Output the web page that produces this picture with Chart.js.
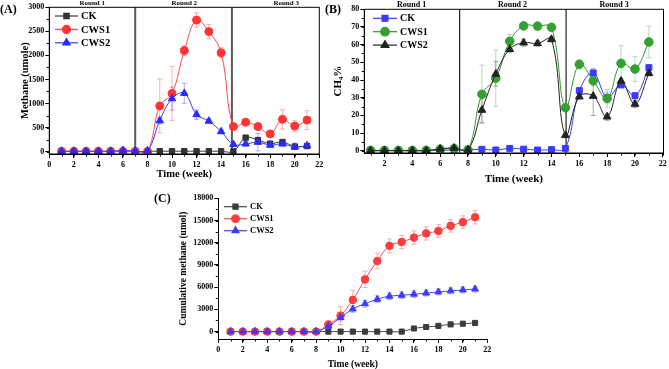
<!DOCTYPE html>
<html>
<head>
<meta charset="utf-8">
<script src="https://cdn.jsdelivr.net/npm/chart.js@4.4.1/dist/chart.umd.min.js"></script>
<style>
  html, body { margin: 0; padding: 0; background: #fff; }
  #wrap { position: relative; width: 669px; height: 369px; overflow: hidden; }
  canvas { position: absolute; }
  .tag { position: absolute; font: bold 12px "Liberation Serif", serif; line-height: 12px; color: #000; }
</style>
</head>
<body>
<div id="wrap">
  <canvas id="chartA" width="334" height="185" style="left:0;top:0;width:334px;height:185px"></canvas>
  <canvas id="chartB" width="349" height="190" style="left:320px;top:0;width:349px;height:190px"></canvas>
  <canvas id="chartC" width="380" height="190" style="left:150px;top:185px;width:380px;height:190px"></canvas>
  <div class="tag" style="left:0;top:3px">(A)</div>
  <div class="tag" style="left:325px;top:3px">(B)</div>
  <div class="tag" style="left:154px;top:192px">(C)</div>
</div>
<script>
const SERIF = '"Liberation Serif", "Times New Roman", serif';

// sampling weeks
const weeks = [1, 2, 3, 4, 5, 6, 7, 8, 9, 10, 11, 12, 13, 14, 15, 16, 17, 18, 19, 20, 21];
const seriesNames = ['CK', 'CWS1', 'CWS2'];
const roundNames = ['Round 1', 'Round 2', 'Round 3'];

// (A) methane per week (umole)
const aCK       = [0, 0, 0, 0, 0, 0, 0, 5, 8, 8, 8, 8, 8, 8, 5, 290, 240, 165, 200, 105, 115];
const aCKErr    = [0, 0, 0, 0, 0, 0, 0, 0, 0, 0, 0, 0, 0, 0, 0, 30, 40, 25, 30, 20, 20];
const aCWS1     = [5, 5, 5, 5, 5, 5, 5, 0, 950, 1210, 2100, 2735, 2495, 2055, 520, 610, 520, 368, 670, 530, 655];
const aCWS1Err  = [0, 0, 0, 0, 0, 0, 0, 0, 560, 560, 100, 150, 150, 105, 30, 40, 40, 30, 200, 115, 195];
const aCWS2     = [10, 10, 10, 10, 10, 25, 15, 20, 644, 1101, 1213, 770, 635, 416, 150, 160, 195, 135, 160, 95, 125];
const aCWS2Err  = [0, 0, 0, 0, 0, 0, 0, 0, 60, 240, 210, 100, 45, 40, 30, 40, 180, 40, 40, 30, 30];
const aXTicks = [0, 2, 4, 6, 8, 10, 12, 14, 16, 18, 20, 22];
const aYTicks = [0, 500, 1000, 1500, 2000, 2500, 3000];
const aDividers = [7, 14.88];
const aRoundAt = [3.5, 11, 19.3];

// (B) CH4 share (%)
const bCK       = [0, 0, 0, 0, 0, 0.3, 0.3, 0.5, 0.8, 0.4, 1.3, 0.9, 0.4, 0.6, 1.3, 34, 44, 30, 37.2, 31.1, 47];
const bCKErr    = [0, 0, 0, 0, 0, 0, 0, 0, 0, 0, 0, 0, 0, 0, 0, 1.5, 2.5, 3, 1.5, 1.5, 1.5];
const bCWS1     = [0.2, 0.2, 0.2, 0.2, 0.2, 0.8, 1.2, 0.5, 31.9, 41, 61.9, 70.6, 70.5, 69.8, 24.3, 48.9, 39.6, 29.6, 49.4, 46.2, 61.5];
const bCWS1Err  = [0, 0, 0, 0, 0, 0.5, 0.5, 0, 16.5, 16, 4, 1.5, 1.5, 1.5, 1, 2.5, 3, 5, 10, 7, 9];
const bCWS2     = [0, 0, 0, 0, 0, 1, 1.5, 0.5, 23, 43.4, 57.4, 61.1, 60.7, 63, 8.7, 30.6, 30.9, 19.2, 39.4, 26.4, 43.8];
const bCWS2Err  = [0, 0, 0, 0, 0, 0.5, 0.5, 0, 7, 7, 2, 2, 1.5, 1.5, 1, 1.5, 11, 2, 1.5, 2, 1.5];
const bXTicks = [2, 4, 6, 8, 10, 12, 14, 16, 18, 20, 22];
const bYTicks = [0, 10, 20, 30, 40, 50, 60, 70, 80];
const bDividers = [7.4, 15.05];
const bRoundAt = [3.95, 11.2, 18.5];

// (C) cumulative methane (umol)
const cCK       = [0, 0, 0, 0, 0, 0, 0, 0, 0, 0, 0, 0, 0, 0, 0, 420, 620, 770, 970, 1070, 1170];
const cCKErr    = [0, 0, 0, 0, 0, 0, 0, 0, 0, 0, 0, 0, 0, 0, 0, 60, 80, 80, 90, 90, 100];
const cCWS1     = [0, 0, 0, 0, 0, 0, 0, 0, 950, 2160, 4280, 7050, 9530, 11580, 12100, 12690, 13260, 13590, 14280, 14780, 15440];
const cCWS1Err  = [0, 0, 0, 0, 0, 0, 0, 0, 500, 1200, 1300, 1100, 1050, 950, 900, 900, 900, 850, 850, 850, 900];
const cCWS2     = [0, 0, 0, 0, 0, 0, 0, 0, 720, 1900, 3050, 3760, 4370, 4780, 4910, 5050, 5200, 5360, 5500, 5620, 5750];
const cCWS2Err  = [0, 0, 0, 0, 0, 0, 0, 0, 300, 450, 450, 450, 450, 450, 450, 450, 400, 400, 400, 400, 400];
const cXTicks = [0, 2, 4, 6, 8, 10, 12, 14, 16, 18, 20, 22];
const cYTicks = [0, 3000, 6000, 9000, 12000, 15000, 18000];

function series(label, values, errors, st) {
  return {
    label,
    data: values.map((v, i) => ({ x: weeks[i], y: v })),
    err: errors,
    errColor: st.err,
    borderColor: st.line,
    backgroundColor: st.fill,
    pointBackgroundColor: st.fill,
    pointBorderColor: st.fill,
    pointStyle: st.shape,
    pointRadius: st.r,
    borderWidth: 1,
    tension: 0.4,
    order: st.order
  };
}

// error bars under the lines
const errorBars = {
  id: 'errorBars',
  beforeDatasetsDraw(chart) {
    const { ctx, scales: { x, y } } = chart;
    ctx.save();
    ctx.lineWidth = 1;
    chart.data.datasets.forEach(ds => {
      if (!ds.err) return;
      ctx.strokeStyle = ds.errColor;
      ds.data.forEach((p, i) => {
        const e = ds.err[i];
        if (!e) return;
        const px = x.getPixelForValue(p.x);
        const t = y.getPixelForValue(p.y + e), b = y.getPixelForValue(p.y - e);
        ctx.beginPath();
        ctx.moveTo(px, t); ctx.lineTo(px, b);
        ctx.moveTo(px - 2.5, t); ctx.lineTo(px + 2.5, t);
        ctx.moveTo(px - 2.5, b); ctx.lineTo(px + 2.5, b);
        ctx.stroke();
      });
    });
    ctx.restore();
  }
};

function dividers(values, color, width) {
  return {
    id: 'dividers',
    beforeDatasetsDraw(chart) {
      const { ctx, chartArea: a, scales: { x } } = chart;
      ctx.save();
      ctx.strokeStyle = color;
      ctx.lineWidth = width;
      values.forEach(v => {
        const px = x.getPixelForValue(v);
        ctx.beginPath(); ctx.moveTo(px, a.top); ctx.lineTo(px, a.bottom); ctx.stroke();
      });
      ctx.restore();
    }
  };
}

function rounds(at, size) {
  return {
    id: 'rounds',
    afterDraw(chart) {
      const { ctx, chartArea: a, scales: { x } } = chart;
      ctx.save();
      ctx.font = `bold ${size}px ${SERIF}`;
      ctx.fillStyle = '#000';
      ctx.textAlign = 'center';
      ctx.textBaseline = 'alphabetic';
      roundNames.forEach((n, i) => ctx.fillText(n, x.getPixelForValue(at[i]), a.top - 2));
      ctx.restore();
    }
  };
}

const frame = {
  id: 'frame',
  afterDraw(chart) {
    const { ctx, chartArea: a } = chart;
    ctx.save();
    ctx.strokeStyle = '#000';
    ctx.lineWidth = 1;
    ctx.strokeRect(a.left, a.top, a.right - a.left, a.bottom - a.top);
    ctx.restore();
  }
};

function minorTicks(xStep, yStep) {
  return {
    id: 'minorTicks',
    afterDraw(chart) {
      const { ctx, chartArea: a, scales: { x, y } } = chart;
      ctx.save();
      ctx.strokeStyle = '#000';
      ctx.lineWidth = 1;
      ctx.beginPath();
      for (let v = Math.ceil(x.min / xStep) * xStep; v <= x.max + 1e-9; v += xStep) {
        const px = Math.round(x.getPixelForValue(v)) + 0.5;
        ctx.moveTo(px, a.bottom); ctx.lineTo(px, a.bottom + 2.5);
      }
      for (let v = Math.ceil(y.min / yStep) * yStep; v <= y.max + 1e-9; v += yStep) {
        const py = Math.round(y.getPixelForValue(v)) + 0.5;
        ctx.moveTo(a.left, py); ctx.lineTo(a.left - 2.5, py);
      }
      ctx.stroke();
      ctx.restore();
    }
  };
}

function seriesKey(k) {
  return {
    id: 'seriesKey',
    afterDraw(chart) {
      const ctx = chart.ctx;
      ctx.save();
      ctx.font = `bold ${k.size}px ${SERIF}`;
      ctx.textBaseline = 'middle';
      chart.data.datasets.forEach((ds, i) => {
        const y = k.y + i * k.gap;
        ctx.strokeStyle = ds.borderColor;
        ctx.lineWidth = 1.2;
        ctx.beginPath(); ctx.moveTo(k.x, y); ctx.lineTo(k.x + k.len, y); ctx.stroke();
        ctx.fillStyle = ds.pointBackgroundColor;
        ctx.strokeStyle = ds.pointBorderColor;
        Chart.helpers.drawPoint(ctx, { pointStyle: ds.pointStyle, radius: ds.pointRadius, rotation: 0, borderWidth: 1 },
          k.x + k.len / 2, y);
        ctx.fillStyle = '#000';
        ctx.fillText(ds.label, k.x + k.len + 3, y + 0.5);
      });
      ctx.restore();
    }
  };
}

function axisFont(size) {
  return { family: SERIF, size, weight: 'bold' };
}

function panel(id, o) {
  const canvas = document.getElementById(id);
  const W = canvas.width, H = canvas.height;
  return new Chart(canvas, {
    type: 'line',
    data: { datasets: o.datasets },
    options: {
      responsive: false,
      animation: false,
      events: [],
      layout: { padding: { left: 0, top: o.area.top, right: W - o.area.right, bottom: 0 } },
      plugins: { legend: { display: false }, tooltip: { enabled: false } },
      scales: {
        x: {
          type: 'linear',
          min: o.x.min, max: o.x.max,
          afterBuildTicks: s => { s.ticks = o.x.ticks.map(v => ({ value: v })); },
          afterFit: s => { s.height = H - o.area.bottom; },
          grid: { drawOnChartArea: false, tickLength: 4, tickColor: '#000' },
          border: { color: '#000', width: 1 },
          ticks: { color: '#000', font: axisFont(o.tickSize), padding: 2, maxRotation: 0, autoSkip: false, callback: v => String(v) },
          title: { display: true, text: 'Time (week)', color: '#000', font: axisFont(o.x.titleSize), padding: { top: 0, bottom: o.x.titlePad } }
        },
        y: {
          type: 'linear',
          min: o.y.min, max: o.y.max,
          afterBuildTicks: s => { s.ticks = o.y.ticks.map(v => ({ value: v })); },
          afterFit: s => { s.width = o.area.left; },
          grid: { drawOnChartArea: false, tickLength: 4, tickColor: '#000' },
          border: { color: '#000', width: 1 },
          ticks: { color: '#000', font: axisFont(o.tickSize), padding: 1, autoSkip: false, callback: v => String(v) },
          title: { display: true, text: o.y.title, color: '#000', font: axisFont(o.y.titleSize), padding: { top: o.y.titlePad, bottom: 0 } }
        }
      }
    },
    plugins: o.plugins
  });
}

// (A)
panel('chartA', {
  area: { left: 49.3, right: 319.3, top: 7.3, bottom: 154 },
  tickSize: 8,
  x: { min: 0, max: 22, ticks: aXTicks, titleSize: 10.5, titlePad: 4.5 },
  y: { min: -50, max: 3000, ticks: aYTicks, title: 'Methane (umole)', titleSize: 10.5, titlePad: 18.5 },
  datasets: [
    series(seriesNames[0], aCK, aCKErr, { fill: '#333333', line: '#3a3a3a', err: 'rgba(90,90,90,0.55)', shape: 'rect', r: 3.8, order: 3 }),
    series(seriesNames[1], aCWS1, aCWS1Err, { fill: '#ff3434', line: '#ff4a4a', err: 'rgba(255,110,110,0.55)', shape: 'circle', r: 4, order: 2 }),
    series(seriesNames[2], aCWS2, aCWS2Err, { fill: '#2a2aff', line: '#3a3aff', err: 'rgba(90,90,255,0.5)', shape: 'triangle', r: 4.3, order: 1 })
  ],
  plugins: [errorBars, dividers(aDividers, '#5a5a5a', 2), frame, minorTicks(1, 250), rounds(aRoundAt, 7),
    seriesKey({ x: 55, y: 16, gap: 13.4, len: 23, size: 10.5 })]
});

// (B)
panel('chartB', {
  area: { left: 44.3, right: 345, top: 9.3, bottom: 153 },
  tickSize: 8,
  x: { min: 0.55, max: 22.05, ticks: bXTicks, titleSize: 11, titlePad: 4 },
  y: { min: -1.3, max: 80, ticks: bYTicks, title: 'CH\u2084%', titleSize: 11, titlePad: 11.5 },
  datasets: [
    series(seriesNames[0], bCK, bCKErr, { fill: '#3a3aff', line: '#3a3aff', err: 'rgba(110,110,255,0.5)', shape: 'rect', r: 4.2, order: 3 }),
    series(seriesNames[1], bCWS1, bCWS1Err, { fill: '#34a034', line: '#2e962e', err: 'rgba(120,190,120,0.55)', shape: 'circle', r: 4.3, order: 2 }),
    series(seriesNames[2], bCWS2, bCWS2Err, { fill: '#222222', line: '#222222', err: 'rgba(90,90,90,0.5)', shape: 'triangle', r: 4.5, order: 1 })
  ],
  plugins: [errorBars, dividers(bDividers, '#222222', 1.2), frame, minorTicks(1, 5), rounds(bRoundAt, 8),
    seriesKey({ x: 53, y: 18.3, gap: 13.4, len: 24, size: 10 })]
});

// (C)
panel('chartC', {
  area: { left: 68.3, right: 337.3, top: 13.3, bottom: 154 },
  tickSize: 8,
  x: { min: 0, max: 22, ticks: cXTicks, titleSize: 9.5, titlePad: 5 },
  y: { min: -1000, max: 18000, ticks: cYTicks, title: 'Cumulative methane (umol)', titleSize: 9.5, titlePad: 27.5 },
  datasets: [
    series(seriesNames[0], cCK, cCKErr, { fill: '#3c3c3c', line: '#444444', err: 'rgba(100,100,100,0.5)', shape: 'rect', r: 3.6, order: 3 }),
    series(seriesNames[1], cCWS1, cCWS1Err, { fill: '#ff3c3c', line: '#ff4a4a', err: 'rgba(255,110,110,0.55)', shape: 'circle', r: 3.8, order: 2 }),
    series(seriesNames[2], cCWS2, cCWS2Err, { fill: '#3c3cff', line: '#4040ff', err: 'rgba(110,110,255,0.5)', shape: 'triangle', r: 4, order: 1 })
  ],
  plugins: [errorBars, minorTicks(1, 1500), seriesKey({ x: 74, y: 21.7, gap: 12, len: 23, size: 8.5 })]
});
</script>
</body>
</html>
